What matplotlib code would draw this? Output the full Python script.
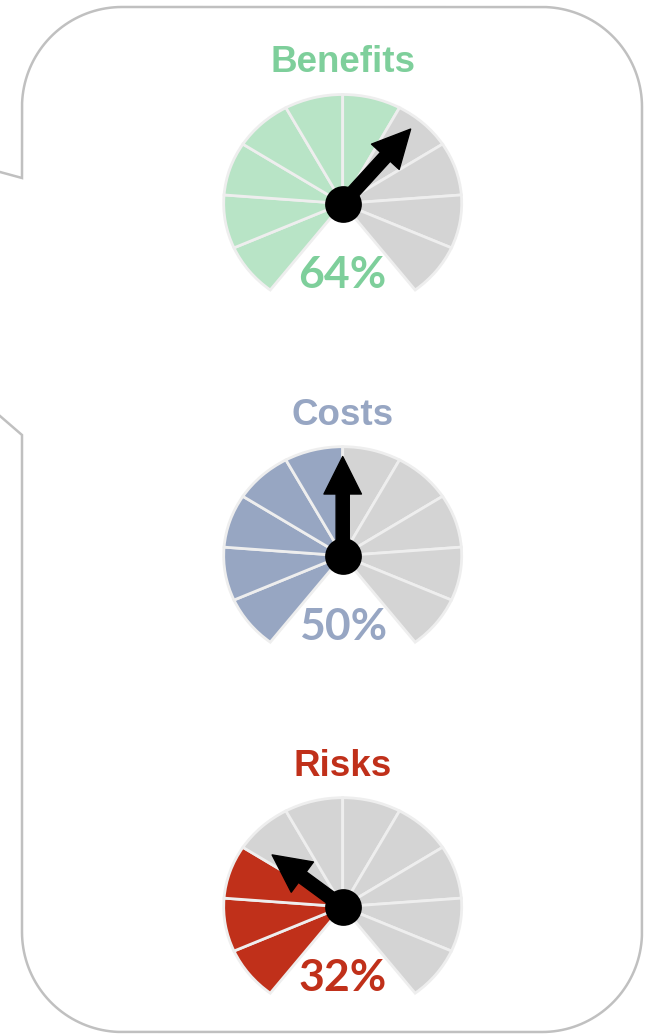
import numpy as np
import matplotlib
matplotlib.use('Agg')
import matplotlib.pyplot as plt
from matplotlib.transforms import offset_copy

# chart data
names = ['Benefits', 'Costs', 'Risks']
values = [64, 50, 32]
fill_colors = ['#b8e4c6', '#97a6c2', '#c0301a']
text_colors = ['#7ecf9b', '#97a6c3', '#c0301a']
empty_color = '#d4d4d4'
n_segments = 10

# layout (pixels)
W, H = 649, 1034
cx = 342.7
centers_y = [203.5, 555.7, 906.7]
rx, ry = 119, 109
start_angle = 232.5
span = 285.0
needle_len = [0.89, 0.91, 0.76]


def rounded_box(left, top, right, bottom, r):
    xs, ys = [0, left], [172, 178]
    corners = [((left + r, top + r), 180, 270),
               ((right - r, top + r), 270, 360),
               ((right - r, bottom - r), 0, 90),
               ((left + r, bottom - r), 90, 180)]
    for (ccx, ccy), a0, a1 in corners:
        t = np.radians(np.linspace(a0, a1, 40))
        xs += list(ccx + r * np.cos(t))
        ys += list(ccy + r * np.sin(t))
    xs += [left, 0]
    ys += [435, 416]
    return xs, ys


fig = plt.figure(figsize=(W / 100, H / 100), dpi=100)

# background axes in pixel units for the callout box
ax_bg = fig.add_axes([0, 0, 1, 1])
ax_bg.set_xlim(0, W)
ax_bg.set_ylim(H, 0)
ax_bg.axis('off')
bx, by = rounded_box(22, 7, 642, 1032, 100)
ax_bg.plot(bx, by, color='#c0c0c0', lw=1.8, solid_joinstyle='miter')


def draw_gauge(i):
    name = names[i]
    pct = values[i]
    cy = centers_y[i]
    ax = fig.add_axes([(cx - 1.2 * rx) / W, (H - cy - 1.2 * ry) / H,
                       2.4 * rx / W, 2.4 * ry / H])
    n_fill = int(pct // 10)
    cols = [fill_colors[i]] * n_fill + [empty_color] * (n_segments - n_fill)
    fracs = [span / 360 / n_segments] * n_segments
    ax.pie(fracs, colors=cols, startangle=start_angle, counterclock=False,
           normalize=False, radius=1,
           wedgeprops=dict(edgecolor='#eeeeee', linewidth=2))
    ax.set_aspect('auto')
    ax.set_xlim(-1.2, 1.2)
    ax.set_ylim(-1.2, 1.2)
    ax.axis('off')

    # needle
    a = np.radians(start_angle - pct / 100 * span)
    L = needle_len[i]
    ax.annotate('', xy=(L * np.cos(a), L * np.sin(a)), xytext=(0, 0),
                arrowprops=dict(arrowstyle='simple,head_length=2.7,head_width=2.7,tail_width=0.95',
                                color='black', shrinkA=0, shrinkB=0, mutation_scale=10),
                zorder=4)
    ax.scatter([0], [0], s=700, color='black', zorder=5, linewidths=0)

    # title and value
    ax.text(0, 0, name, transform=offset_copy(ax.transData, fig=fig, y=131, units='dots'),
            ha='center', va='baseline', fontsize=26.5, fontweight='bold',
            family='Liberation Sans', color=text_colors[i])
    ax.text(0, 0, f'{pct}%', transform=offset_copy(ax.transData, fig=fig, y=-84.5, units='dots'),
            ha='center', va='baseline', fontsize=32, fontweight='bold',
            family='Lato', color=text_colors[i], zorder=6)


for i in range(len(names)):
    draw_gauge(i)

fig.savefig('out.png', dpi=100)
